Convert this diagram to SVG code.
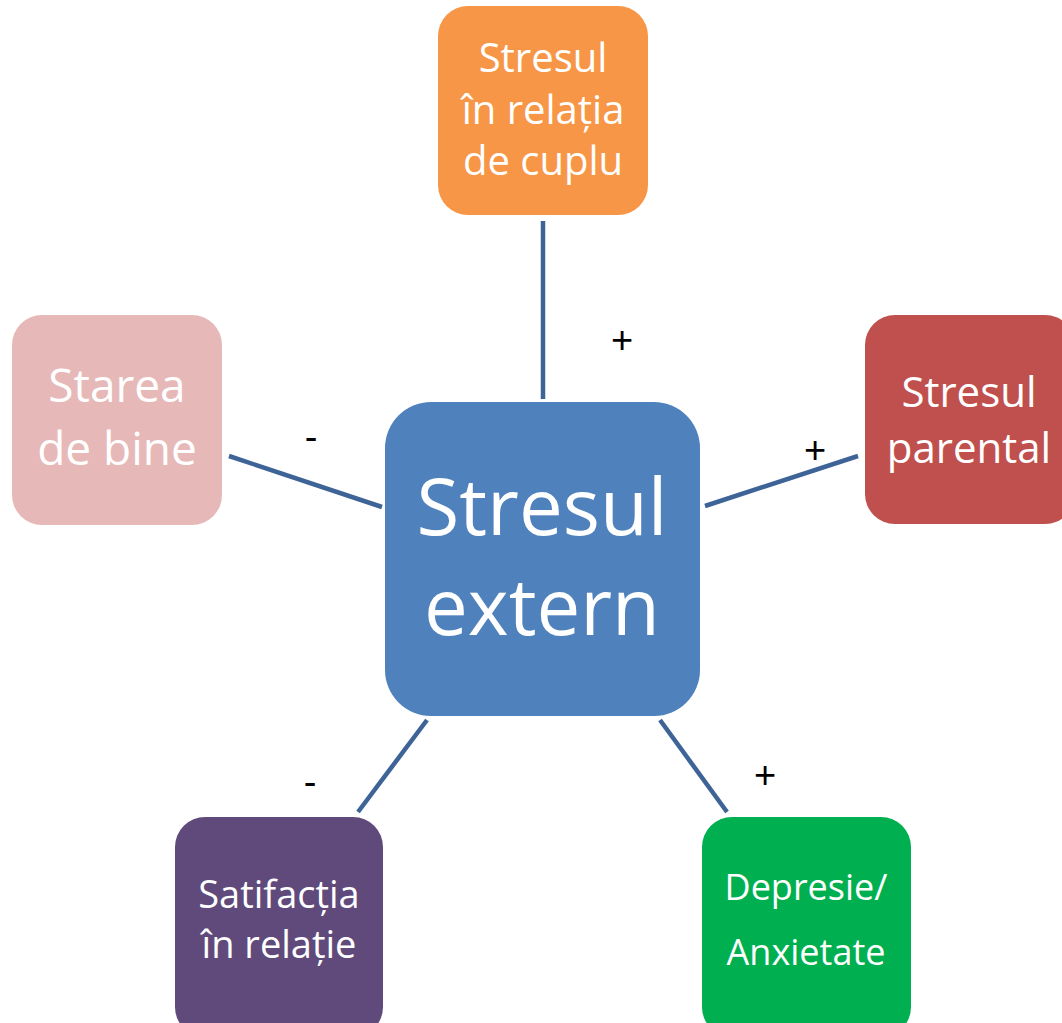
<svg xmlns="http://www.w3.org/2000/svg" width="1062" height="1023" viewBox="0 0 1062 1023">
  <style>
    .box text { fill: #ffffff; font-family: "Open Sans", "Noto Sans", sans-serif; text-anchor: middle; }
    .link { stroke: #3e6497; stroke-width: 4.5; fill: none; }
    .sign { fill: #000000; font-family: "Liberation Sans", Arial, sans-serif; font-size: 38px; text-anchor: middle; }
  </style>
  <rect width="1062" height="1023" fill="#ffffff"/>

  <g id="connectors">
    <line class="link" x1="543" y1="221" x2="543" y2="399"/>
    <line class="link" x1="229" y1="456" x2="382" y2="507"/>
    <line class="link" x1="705" y1="506" x2="858" y2="456"/>
    <line class="link" x1="427" y1="720" x2="358" y2="812"/>
    <line class="link" x1="660" y1="720" x2="727" y2="812"/>
    <text class="sign" x="622" y="353">+</text>
    <text class="sign" x="311" y="450">-</text>
    <text class="sign" x="815" y="463">+</text>
    <text class="sign" x="310" y="795">-</text>
    <text class="sign" x="765" y="788">+</text>
  </g>

  <g id="node-center" class="box">
    <rect x="385" y="402" width="315" height="314" rx="46" fill="#4f81bd"/>
    <text x="542" y="535" font-size="78">Stresul</text>
    <text x="542" y="635" font-size="78">extern</text>
  </g>

  <g id="node-cuplu" class="box">
    <rect x="438" y="6" width="210" height="209" rx="30" fill="#f79646"/>
    <text x="543" y="72" font-size="40">Stresul</text>
    <text x="543" y="124" font-size="40">în relația</text>
    <text x="543" y="175" font-size="40">de cuplu</text>
  </g>

  <g id="node-bine" class="box">
    <rect x="12" y="315" width="210" height="210" rx="30" fill="#e6b9b8"/>
    <text x="117" y="402" font-size="46">Starea</text>
    <text x="117" y="465" font-size="46">de bine</text>
  </g>

  <g id="node-parental" class="box">
    <rect x="865" y="315" width="210" height="209" rx="30" fill="#c0504d"/>
    <text x="969" y="407" font-size="42">Stresul</text>
    <text x="969" y="463" font-size="42">parental</text>
  </g>

  <g id="node-satisfactie" class="box">
    <rect x="175" y="817" width="208" height="220" rx="30" fill="#604a7b"/>
    <text x="279" y="908" font-size="38">Satifacția</text>
    <text x="279" y="958" font-size="38">în relație</text>
  </g>

  <g id="node-depresie" class="box">
    <rect x="702" y="817" width="209" height="220" rx="30" fill="#00b050"/>
    <text x="806" y="900" font-size="36">Depresie/</text>
    <text x="806" y="965" font-size="36">Anxietate</text>
  </g>
</svg>
